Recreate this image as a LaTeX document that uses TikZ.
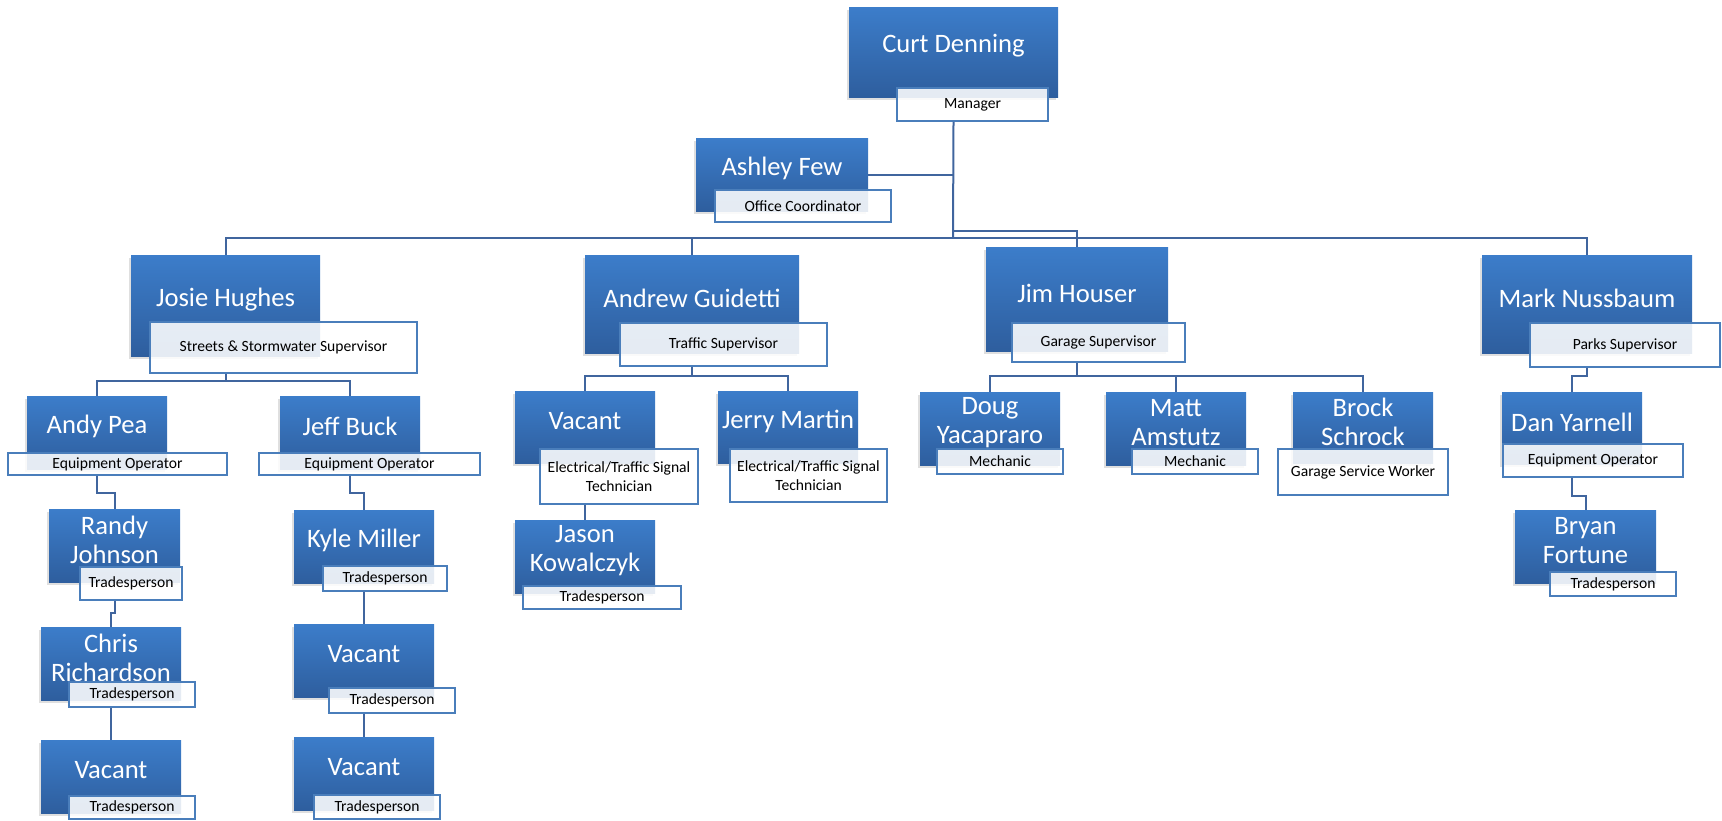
\documentclass[tikz,border=0pt]{standalone}
\usepackage{fontspec}
\setmainfont{Carlito}
\usetikzlibrary{shadows,calc}

\definecolor{boxtop}{RGB}{60,125,202}
\definecolor{boxbot}{RGB}{46,94,158}
\definecolor{rimblue}{RGB}{74,126,187}
\definecolor{linkblue}{RGB}{64,101,158}

\tikzset{
  span/.style args={#1/#2/#3/#4}{at={($(#1,#2)!.5!(#3,#4)$)},
    minimum width={(#3-#1)*0.5pt}, minimum height={(#4-#2)*0.5pt}},
  namebox/.style={inner sep=0pt, top color=boxtop, bottom color=boxbot,
    drop shadow={shadow xshift=-1pt, shadow yshift=-1.5pt, opacity=0.25}},
  nametext/.style={text=white, font=\fontsize{13.3}{14.4}\selectfont, align=center, yshift=3pt},
  rolebox/.style={inner sep=0pt, draw=rimblue, line width=0.8pt, fill=white,
    fill opacity=0.88, text opacity=1, font=\fontsize{7.8}{9.2}\selectfont, align=center},
  link/.style={draw=linkblue, line width=1pt}
}

\begin{document}
\begin{tikzpicture}[x=0.5pt, y=-0.5pt]
    \useasboundingbox (0,0) rectangle (1722,820);

    % Manager and office
    \node[namebox, span=849/7/1058/97, label={[nametext]center:Curt Denning}] (curtN) {};
    \node[rolebox, span=897/88/1048/121] (curtT) {Manager};
    \node[namebox, span=696/138/868/211, label={[nametext]center:Ashley Few}] (ashN) {};
    \node[rolebox, span=715/190/891/222] (ashT) {Office Coordinator};

    % Supervisors
    \node[namebox, span=131/255/320/356, label={[nametext]center:Josie Hughes}] (josieN) {};
    \node[rolebox, span=150/322/417/373] (josieT) {Streets \& Stormwater Supervisor};
    \node[namebox, span=585/255/799/353, label={[nametext]center:Andrew Guidetti}] (andrewN) {};
    \node[rolebox, span=620/323/827/366] (andrewT) {Traffic Supervisor};
    \node[namebox, span=986/247/1168/351, label={[nametext]center:Jim Houser}] (jimN) {};
    \node[rolebox, span=1012/323/1185/362] (jimT) {Garage Supervisor};
    \node[namebox, span=1482/255/1692/353, label={[nametext]center:Mark Nussbaum}] (markN) {};
    \node[rolebox, span=1530/323/1720/367] (markT) {Parks Supervisor};

    % Streets & Stormwater
    \node[namebox, span=27/396/167/469, label={[nametext]center:Andy Pea}] (andyN) {};
    \node[rolebox, span=8/453/227/475] (andyT) {Equipment Operator};
    \node[namebox, span=280/396/420/469, label={[nametext]center:Jeff Buck}] (jeffN) {};
    \node[rolebox, span=259/453/480/475] (jeffT) {Equipment Operator};
    \node[namebox, span=49/509/180/582, label={[nametext]center:{Randy\\Johnson}}] (randyN) {};
    \node[rolebox, span=80/567/182/600] (randyT) {Tradesperson};
    \node[namebox, span=41/627/181/700, label={[nametext]center:{Chris\\Richardson}}] (chrisN) {};
    \node[rolebox, span=69/682/195/707] (chrisT) {Tradesperson};
    \node[namebox, span=41/740/181/813, label={[nametext]center:Vacant}] (vacAN) {};
    \node[rolebox, span=69/796/195/819] (vacAT) {Tradesperson};
    \node[namebox, span=294/510/434/583, label={[nametext]center:Kyle Miller}] (kyleN) {};
    \node[rolebox, span=323/566/447/591] (kyleT) {Tradesperson};
    \node[namebox, span=294/624/434/697, label={[nametext]center:Vacant}] (vacBN) {};
    \node[rolebox, span=329/688/455/713] (vacBT) {Tradesperson};
    \node[namebox, span=294/737/434/810, label={[nametext]center:Vacant}] (vacCN) {};
    \node[rolebox, span=314/795/440/819] (vacCT) {Tradesperson};

    % Traffic
    \node[namebox, span=515/391/655/463, label={[nametext]center:Vacant}] (vacTN) {};
    \node[rolebox, span=540/449/698/504] (vacTT) {Electrical/Traffic Signal\\Technician};
    \node[namebox, span=718/391/858/463, label={[nametext]center:Jerry Martin}] (jerryN) {};
    \node[rolebox, span=730/449/887/502] (jerryT) {Electrical/Traffic Signal\\Technician};
    \node[namebox, span=515/520/655/593, label={[nametext]center:{Jason\\Kowalczyk}}] (jasonN) {};
    \node[rolebox, span=523/586/681/609] (jasonT) {Tradesperson};

    % Garage
    \node[namebox, span=920/392/1060/465, label={[nametext]center:{Doug\\Yacapraro}}] (dougN) {};
    \node[rolebox, span=937/449/1063/474] (dougT) {Mechanic};
    \node[namebox, span=1106/392/1246/465, label={[nametext]center:{Matt\\Amstutz}}] (mattN) {};
    \node[rolebox, span=1132/449/1258/474] (mattT) {Mechanic};
    \node[namebox, span=1293/392/1433/463, label={[nametext]center:{Brock\\Schrock}}] (brockN) {};
    \node[rolebox, span=1278/449/1448/495] (brockT) {Garage Service Worker};

    % Parks
    \node[namebox, span=1502/392/1642/464, label={[nametext]center:Dan Yarnell}] (danN) {};
    \node[rolebox, span=1503/444/1683/477] (danT) {Equipment Operator};
    \node[namebox, span=1515/510/1656/583, label={[nametext]center:{Bryan\\Fortune}}] (bryanN) {};
    \node[rolebox, span=1550/572/1676/596] (bryanT) {Tradesperson};

    % Top level lines
    \coordinate (bus) at (953,238);
    \coordinate (jimTop) at (953,231);
    \draw[link] (curtN.south |- curtT.south) -- (bus);
    \draw[link] (ashN.east) -- (ashN.east -| curtN.south);
    \draw[link] (jimTop) -| (jimN.north);
    \draw[link] (josieN.north) |- (bus) -| (markN.north);
    \draw[link] (andrewN.north) -- (andrewN.north |- bus);

    % Streets & Stormwater lines
    \coordinate (josieBus) at ($(josieN.south |- josieT.south)+(0,7)$);
    \draw[link] (josieN.south |- josieT.south) -- (josieBus);
    \draw[link] (andyN.north) |- (josieBus) -| (jeffN.north);
    \draw[link] (andyN.south |- andyT.south) -- ++(0,17) -| (randyN.north);
    \draw[link] (randyN.south |- randyT.south) -- ++(0,12) -| (chrisN.north);
    \draw[link] (chrisN.south |- chrisT.south) -- (vacAN.north);
    \draw[link] (jeffN.south |- jeffT.south) -- ++(0,17) -| (kyleN.north);
    \draw[link] (kyleN.south |- kyleT.south) -- (vacBN.north);
    \draw[link] (vacBN.south |- vacBT.south) -- (vacCN.north);

    % Traffic lines
    \coordinate (andrewBus) at ($(andrewN.south |- andrewT.south)+(0,9)$);
    \draw[link] (andrewN.south |- andrewT.south) -- (andrewBus);
    \draw[link] (vacTN.north) |- (andrewBus) -| (jerryN.north);
    \draw[link] (vacTN.south |- vacTT.south) -- (jasonN.north);

    % Garage lines
    \coordinate (jimBus) at ($(jimN.south |- jimT.south)+(0,13)$);
    \draw[link] (jimN.south |- jimT.south) -- (jimBus);
    \draw[link] (dougN.north) |- (jimBus) -| (brockN.north);
    \draw[link] (mattN.north) -- (mattN.north |- jimBus);

    % Parks lines
    \draw[link] (markN.south |- markT.south) -- ++(0,8) -| (danN.north);
    \draw[link] (danN.south |- danT.south) -- ++(0,18) -| (bryanN.north);
\end{tikzpicture}
\end{document}
